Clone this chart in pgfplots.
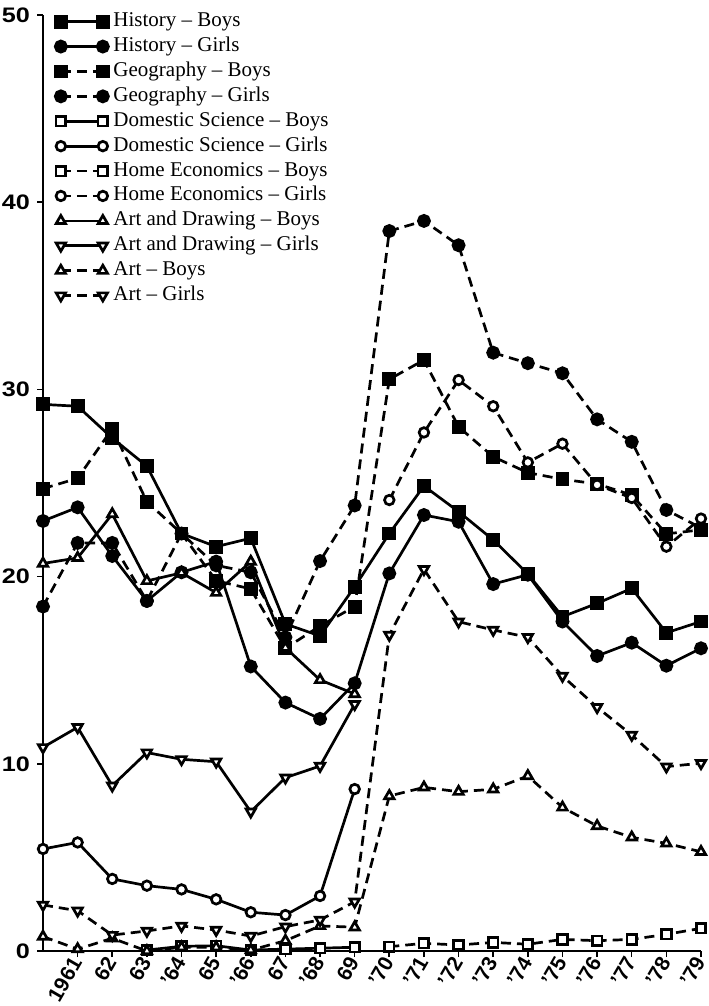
\documentclass[border=0pt]{standalone}
\usepackage{fontspec}
\setmainfont{Liberation Serif}
\setsansfont{Liberation Sans}
\usepackage{pgfplots}
\pgfplotsset{compat=1.18}
\pgfplotsset{
  sl/.style={black, line width=1.35pt, solid},
  dl/.style={black, line width=1.35pt, dash pattern=on 5pt off 3pt},
}
\begin{document}
\begin{tikzpicture}
\begin{axis}[
  at={(0,0)}, anchor=south west,
  scale only axis, width=329pt, height=468pt,
  xmin=1960, xmax=1979, ymin=0, ymax=50,
  axis x line*=bottom, axis y line*=left,
  axis line style={line width=1pt, -},
  xtick={1961,...,1979},
  xticklabels={1961,62,63,’64,65,’66,67,’68,69,’70,’71,’72,’73,’74,’75,’76,’77,’78,’79},
  ytick={0,10,20,30,40,50},
  yticklabel={\scalebox{1.2}[1]{\pgfmathprintnumber{\tick}}},
  tick align=outside,
  major tick length=3pt,
  tick style={line width=0.8pt, black},
  /pgf/number format/assume math mode=true,
  yticklabel style={font=\sffamily\bfseries\fontsize{10.5}{12}\selectfont},
  xticklabel style={font=\sffamily\bfseries\fontsize{10.5}{12}\selectfont, rotate=60, anchor=east, inner sep=1pt},
  clip=false,
  legend style={draw=none, fill=none, at={(rel axis cs:0.018,1.004)}, anchor=north west,
    font=\fontsize{10.5}{12}\selectfont, row sep=2.45pt, cells={anchor=west}, inner sep=0pt,
    nodes={inner xsep=2.5pt, inner ysep=0pt, text height=7.5pt, text depth=2.5pt}},
  legend image code/.code={\draw[mark repeat=2,mark phase=1,#1] plot coordinates {(0pt,0pt) (10.5pt,0pt) (21pt,0pt)};},
]
% History - Boys
\addplot[sl, mark=square*, mark size=2.8pt, mark options={solid}] coordinates {
(1960,29.2)(1961,29.1)(1962,27.4)(1963,25.9)(1964,22.3)(1965,21.6)(1966,22.05)(1967,17.47)(1968,16.83)(1969,19.46)
(1970,22.3)(1971,24.84)(1972,23.47)(1973,21.96)(1974,20.14)(1975,17.86)(1976,18.57)(1977,19.37)(1978,17.0)(1979,17.6)};
\addlegendentry{History -- Boys}
% History - Girls
\addplot[sl, mark=*, mark size=2.8pt, mark options={solid}] coordinates {
(1960,22.97)(1961,23.7)(1962,21.1)(1963,18.7)(1964,20.23)(1965,20.8)(1966,15.2)(1967,13.27)(1968,12.4)(1969,14.3)
(1970,20.17)(1971,23.29)(1972,22.93)(1973,19.6)(1974,20.1)(1975,17.6)(1976,15.76)(1977,16.47)(1978,15.24)(1979,16.17)};
\addlegendentry{History -- Girls}
% Geography - Boys
\addplot[dl, mark=square*, mark size=2.8pt, mark options={solid}] coordinates {
(1960,24.7)(1961,25.25)(1962,27.9)(1963,24.0)(1964,22.3)(1965,19.78)(1966,19.34)(1967,16.17)(1968,17.36)(1969,18.4)
(1970,30.54)(1971,31.57)(1972,28.0)(1973,26.4)(1974,25.55)(1975,25.2)(1976,24.95)(1977,24.36)(1978,22.28)(1979,22.5)};
\addlegendentry{Geography -- Boys}
% Geography - Girls
\addplot[dl, mark=*, mark size=2.8pt, mark options={solid}] coordinates {
(1960,18.4)(1961,21.8)(1962,21.8)(1963,18.7)(1964,22.3)(1965,20.6)(1966,20.23)(1967,16.76)(1968,20.83)(1969,23.8)
(1970,38.46)(1971,39.0)(1972,37.7)(1973,31.96)(1974,31.4)(1975,30.86)(1976,28.4)(1977,27.2)(1978,23.56)(1979,22.6)};
\addlegendentry{Geography -- Girls}
% Domestic Science - Boys
\addplot[sl, mark=square*, mark size=2.4pt, mark options={solid, fill=white}] coordinates {
(1963,0.05)(1964,0.25)(1965,0.28)(1966,0.05)(1967,0.1)(1968,0.15)(1969,0.2)};
\addlegendentry{Domestic Science -- Boys}
% Domestic Science - Girls
\addplot[sl, mark=*, mark size=2.4pt, mark options={solid, fill=white}] coordinates {
(1960,5.45)(1961,5.8)(1962,3.85)(1963,3.49)(1964,3.29)(1965,2.76)(1966,2.07)(1967,1.92)(1968,2.94)(1969,8.65)};
\addlegendentry{Domestic Science -- Girls}
% Home Economics - Boys
\addplot[dl, mark=square*, mark size=2.4pt, mark options={solid, fill=white}] coordinates {
(1970,0.23)(1971,0.41)(1972,0.32)(1973,0.46)(1974,0.36)(1975,0.62)(1976,0.55)(1977,0.62)(1978,0.89)(1979,1.21)};
\addlegendentry{Home Economics -- Boys}
% Home Economics - Girls
\addplot[dl, mark=*, mark size=2.4pt, mark options={solid, fill=white}] coordinates {
(1970,24.09)(1971,27.7)(1972,30.5)(1973,29.1)(1974,26.1)(1975,27.1)(1976,24.9)(1977,24.2)(1978,21.6)(1979,23.1)};
\addlegendentry{Home Economics -- Girls}
% Art and Drawing - Boys
\addplot[sl, mark=triangle*, mark size=2.7pt, mark options={solid, fill=white}] coordinates {
(1960,20.7)(1961,21.0)(1962,23.34)(1963,19.77)(1964,20.2)(1965,19.14)(1966,20.8)(1967,16.2)(1968,14.48)(1969,13.73)};
\addlegendentry{Art and Drawing -- Boys}
% Art and Drawing - Girls
\addplot[sl, mark=triangle*, mark size=2.7pt, mark options={solid, fill=white, rotate=180}] coordinates {
(1960,10.88)(1961,11.95)(1962,8.83)(1963,10.6)(1964,10.24)(1965,10.11)(1966,7.44)(1967,9.26)(1968,9.88)(1969,13.18)};
\addlegendentry{Art and Drawing -- Girls}
% Art - Boys
\addplot[dl, mark=triangle*, mark size=2.7pt, mark options={solid, fill=white}] coordinates {
(1960,0.77)(1961,0.1)(1962,0.68)(1963,0.0)(1964,0.2)(1965,0.2)(1966,0.05)(1967,0.55)(1968,1.34)(1969,1.27)
(1970,8.28)(1971,8.74)(1972,8.51)(1973,8.64)(1974,9.35)(1975,7.67)(1976,6.68)(1977,6.07)(1978,5.75)(1979,5.3)};
\addlegendentry{Art -- Boys}
% Art - Girls
\addplot[dl, mark=triangle*, mark size=2.7pt, mark options={solid, fill=white, rotate=180}] coordinates {
(1960,2.46)(1961,2.15)(1962,0.85)(1963,1.07)(1964,1.34)(1965,1.12)(1966,0.80)(1967,1.30)(1968,1.66)(1969,2.63)
(1970,16.88)(1971,20.39)(1972,17.59)(1973,17.15)(1974,16.76)(1975,14.69)(1976,13.02)(1977,11.54)(1978,9.85)(1979,10.03)};
\addlegendentry{Art -- Girls}
\end{axis}
\pgfresetboundingbox
\path (-21.5pt,-27.5pt) rectangle (332.5pt,475.5pt);
\end{tikzpicture}
\end{document}
